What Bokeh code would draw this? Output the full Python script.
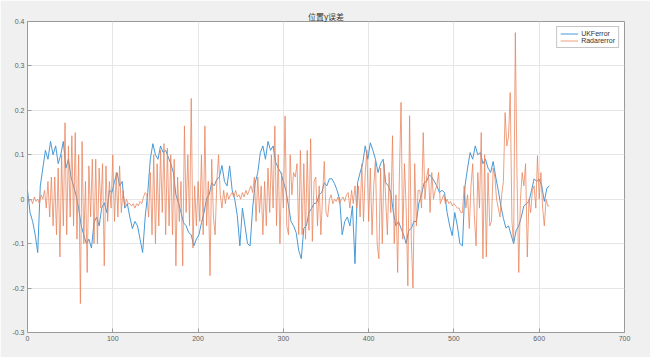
from bokeh.plotting import figure
from bokeh.models import FixedTicker, Range1d, Legend, LegendItem
from bokeh.embed import file_html
from bokeh.resources import INLINE

title_text = "位置y误差"
x_ticks = [0, 100, 200, 300, 400, 500, 600, 700]
y_ticks = [-0.3, -0.2, -0.1, 0, 0.1, 0.2, 0.3, 0.4]
y_tick_labels = ["-0.3", "-0.2", "-0.1", "0", "0.1", "0.2", "0.3", "0.4"]

# UKF error, sampled every 3 steps
ukf_y = [
    0.02, -0.03, -0.05, -0.08, -0.12, 0.03, 0.07, 0.11, 0.09, 0.13,
    0.10, 0.12, 0.08, 0.10, 0.13, 0.07, 0.09, 0.05, 0.03, 0.008,
    -0.02, -0.06, -0.08, -0.10, -0.09, -0.11, -0.053, -0.04, -0.06, -0.02,
    -0.008, -0.03, 0.02, 0.015, 0.04, 0.06, 0.03, 0.04, -0.02, -0.01,
    -0.04, -0.066, -0.05, -0.06, -0.09, -0.12, -0.04, 0.015, 0.09, 0.125,
    0.10, 0.09, 0.12, 0.105, 0.11, 0.095, 0.08, 0.06, 0.01, -0.008,
    -0.03, -0.053, -0.06, -0.075, -0.08, -0.105, -0.09, -0.08, -0.053, -0.03,
    0.001, 0.01, 0.037, 0.03, 0.045, 0.05, 0.076, 0.04, 0.03, 0.075,
    0.02, 0.0, -0.037, -0.105, -0.02, -0.06, -0.10, -0.105, -0.02, 0.037,
    0.06, 0.105, 0.12, 0.09, 0.13, 0.11, 0.12, 0.083, 0.07, 0.06,
    0.04, 0.02, -0.015, -0.05, -0.06, -0.075, -0.115, -0.134, -0.065, -0.06,
    -0.03, -0.021, -0.01, -0.008, 0.01, 0.015, 0.037, 0.03, 0.046, 0.046,
    0.035, 0.02, 0.0, -0.08, -0.05, -0.04, -0.06, -0.015, -0.145, 0.037,
    0.06, 0.08, 0.12, 0.09, 0.127, 0.11, 0.09, 0.06, 0.08, 0.09,
    0.037, 0.03, 0.015, -0.03, -0.06, -0.05, -0.066, -0.08, -0.10, -0.07,
    -0.066, -0.05, -0.05, -0.008, 0.01, 0.037, 0.04, 0.055, 0.05, 0.04,
    0.03, 0.015, 0.02, 0.015, -0.03, -0.06, -0.082, -0.03, -0.06, -0.10,
    -0.105, 0.03, 0.07, 0.105, 0.09, 0.12, 0.10, 0.105, 0.08, 0.09,
    0.07, 0.06, 0.085, 0.05, 0.02, -0.015, -0.043, -0.065, -0.06, -0.08,
    -0.10, -0.07, -0.06, -0.04, -0.015, -0.01, -0.005, 0.02, 0.046, 0.04,
    0.045, 0.03, -0.005, 0.025, 0.03,
]
ukf_x = [3 * i for i in range(len(ukf_y))]

# Radar error, sampled every 2 steps
radar_y = [
    0.005, -0.005, 0.0, -0.01, 0.005, -0.005, 0.0, -0.01, 0.01, 0.0,
    0.02, -0.02, 0.04, -0.04, 0.05, -0.06, 0.05, -0.08, 0.07, -0.13,
    0.10, -0.06, 0.172, -0.08, 0.12, -0.04, 0.143, -0.06, 0.15, -0.09,
    0.10, -0.235, 0.13, -0.10, 0.04, -0.165, 0.075, -0.04, 0.09, -0.10,
    0.09, -0.10, 0.07, -0.02, 0.08, -0.15, 0.075, -0.05, 0.04, -0.02,
    0.10, -0.05, 0.06, -0.04, 0.075, -0.03, 0.02, -0.015, 0.0, -0.01,
    -0.01, -0.015, -0.01, -0.02, -0.01, -0.015, -0.005, -0.01, 0.005, 0.015,
    0.01, -0.04, 0.06, -0.08, 0.10, -0.10, 0.08, -0.06, 0.11, -0.03,
    0.125, -0.08, 0.115, -0.06, 0.10, -0.08, 0.09, -0.15, 0.05, -0.05,
    0.04, -0.15, 0.165, -0.03, 0.10, -0.06, 0.227, -0.11, 0.03, -0.06,
    0.04, -0.05, 0.10, -0.08, 0.165, -0.06, 0.04, -0.172, 0.09, -0.04,
    -0.08, 0.04, 0.10, 0.01, -0.02, 0.02, -0.01, 0.015, 0.0, 0.01,
    0.015, 0.005, 0.02, 0.005, 0.01, 0.0, 0.015, 0.005, 0.02, 0.01,
    0.02, 0.03, 0.015, 0.05, -0.05, 0.05, -0.03, 0.03, -0.08, 0.04,
    -0.06, 0.07, -0.03, 0.10, -0.02, 0.165, -0.06, 0.10, -0.10, 0.06,
    -0.02, 0.187, -0.06, -0.08, 0.10, 0.01, 0.06, 0.05, 0.08, -0.08,
    0.11, -0.08, 0.08, -0.09, 0.11, -0.07, 0.136, -0.095, 0.04, 0.05,
    -0.06, 0.03, -0.08, 0.01, 0.085, -0.03, -0.04, 0.0, 0.01, -0.01,
    0.0, -0.005, 0.005, -0.01, 0.0, 0.005, -0.005, 0.01, 0.015, -0.02,
    0.02, -0.01, 0.03, -0.02, 0.03, -0.04, 0.08, -0.05, 0.06, 0.11,
    -0.05, 0.07, -0.08, 0.03, 0.09, -0.10, -0.134, 0.07, -0.10, 0.08,
    0.0, -0.08, 0.06, -0.03, 0.143, -0.10, 0.01, -0.165, 0.05, 0.218,
    -0.09, 0.08, -0.02, -0.195, 0.188, -0.09, -0.20, 0.08, -0.06, 0.02,
    0.02, -0.02, 0.15, 0.0, 0.05, 0.07, -0.03, 0.06, 0.0, 0.02,
    0.03, 0.06, -0.01, 0.0, 0.01, -0.01, 0.0, -0.01, -0.005, -0.015,
    -0.01, -0.015, -0.02, -0.02, -0.03, -0.03, 0.03, -0.02, 0.01, -0.066,
    0.03, 0.08, -0.04, -0.105, 0.06, -0.02, 0.15, -0.134, 0.10, -0.13,
    0.06, -0.06, -0.05, 0.07, 0.05, 0.0, -0.02, -0.04, 0.01, 0.04,
    0.195, 0.12, 0.14, 0.24, -0.05, -0.10, 0.375, 0.05, -0.165, 0.0,
    0.06, 0.03, 0.08, -0.13, 0.0, -0.03, 0.02, 0.03, -0.02, 0.098,
    0.0, 0.06, -0.02, -0.06, 0.0, -0.015, -0.015,
]
radar_x = [2 * i for i in range(len(radar_y))]

p = figure(width=650, height=357, output_backend="svg", toolbar_location=None,
           x_range=Range1d(0, 700), y_range=Range1d(-0.3, 0.4),
           min_border_left=27, min_border_right=26, min_border_top=21, min_border_bottom=25)

p.border_fill_color = "#f0f0f0"
p.background_fill_color = "white"
p.outline_line_color = "#9a9a9a"
p.outline_line_width = 1

p.title.text = title_text
p.title.align = "center"
p.title.text_font = "Noto Sans CJK SC"
p.title.text_font_size = "8px"
p.title.text_font_style = "normal"
p.title.text_color = "#333333"
p.title.standoff = 0
p.title.offset = 0

for ax in (p.xaxis[0], p.yaxis[0]):
    ax.axis_line_color = "#9a9a9a"
    ax.major_tick_line_color = "#9a9a9a"
    ax.major_tick_in = 4
    ax.major_tick_out = 0
    ax.minor_tick_line_color = None
    ax.major_label_text_font = "Liberation Sans"
    ax.major_label_text_font_size = "7px"
    ax.major_label_text_color = "#606060"
    ax.major_label_standoff = 3

p.xaxis[0].ticker = FixedTicker(ticks=x_ticks)
p.yaxis[0].ticker = FixedTicker(ticks=y_ticks)
p.yaxis[0].major_label_overrides = {t: s for t, s in zip(y_ticks, y_tick_labels)}

p.grid.grid_line_color = "#e6e6e6"
p.grid.grid_line_width = 1
p.xgrid.ticker = FixedTicker(ticks=x_ticks)
p.ygrid.ticker = FixedTicker(ticks=y_ticks)

r1 = p.line(ukf_x, ukf_y, line_color="#3f93d4", line_width=1.0, line_alpha=0.95)
r2 = p.line(radar_x, radar_y, line_color="#e8825a", line_width=0.9, line_alpha=0.85)

legend = Legend(items=[LegendItem(label="UKFerror", renderers=[r1]),
                       LegendItem(label="Radarerror", renderers=[r2])],
                location="top_right")
legend.label_text_font = "Liberation Sans"
legend.label_text_font_size = "7px"
legend.label_text_color = "#333333"
legend.label_height = 7
legend.glyph_height = 7
legend.glyph_width = 18
legend.label_standoff = 3
legend.spacing = 0
legend.padding = 3
legend.margin = 5
legend.border_line_color = "#8c8c8c"
legend.background_fill_alpha = 1
p.add_layout(legend)

open("out.html", "w").write(file_html(p, INLINE))
